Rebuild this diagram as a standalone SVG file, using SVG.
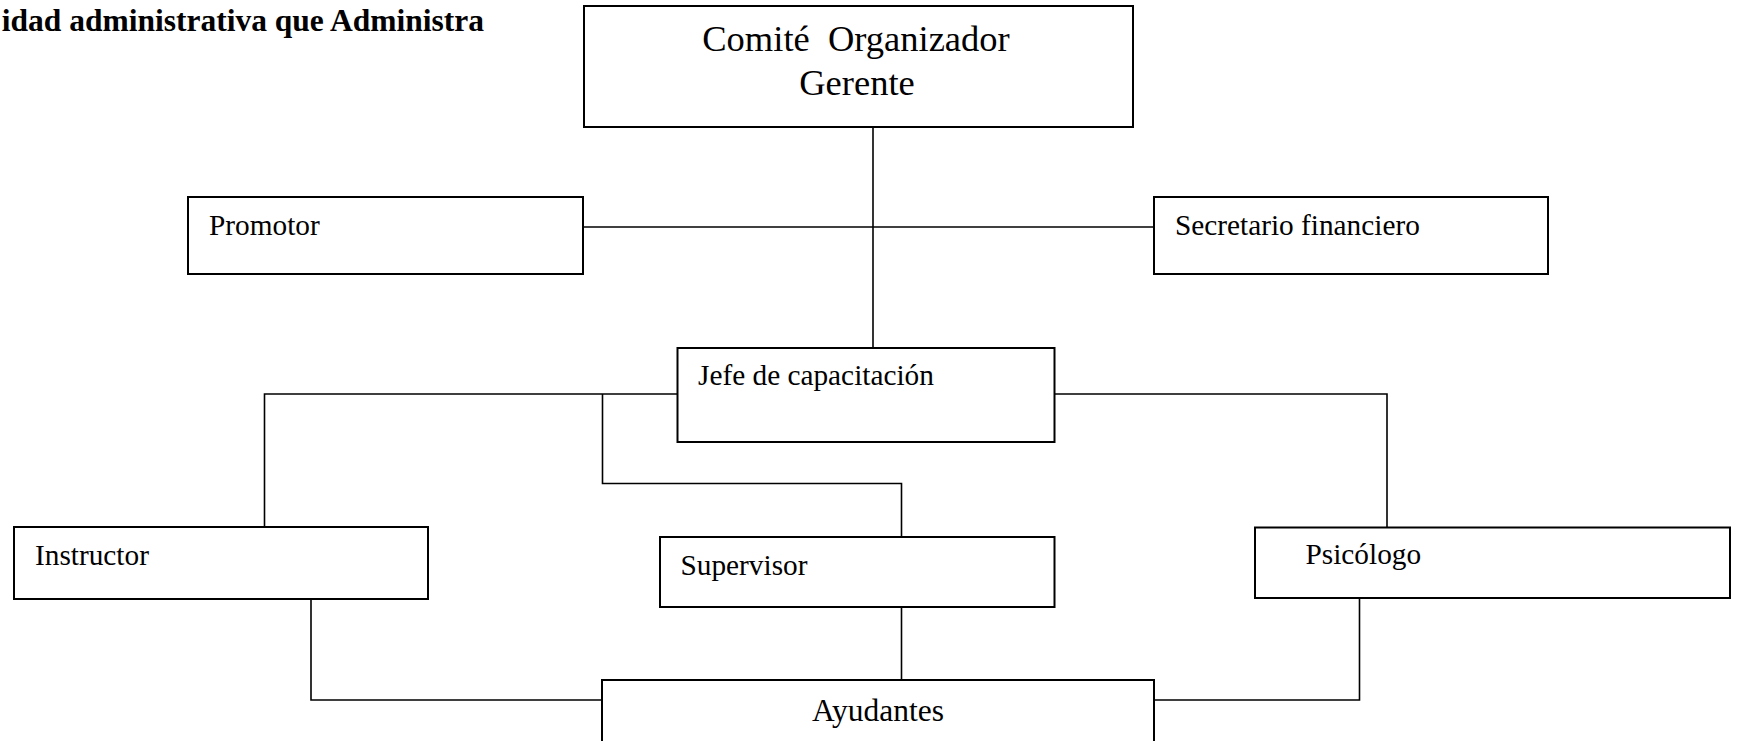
<svg xmlns="http://www.w3.org/2000/svg" width="1737" height="741" viewBox="0 0 1737 741">
<style>
.box{fill:#fff;stroke:#000;stroke-width:2}
.con{fill:none;stroke:#000;stroke-width:1.6}
.t{font-family:"Liberation Serif","Times New Roman",serif;font-size:29.3px;fill:#000}
.big{font-family:"Liberation Serif","Times New Roman",serif;font-size:36.5px;fill:#000}
.title{font-family:"Liberation Serif","Times New Roman",serif;font-size:31.5px;font-weight:bold;fill:#000}
</style>
<rect width="1737" height="741" fill="#fff"/>
<text class="title" x="484" y="31" text-anchor="end">idad administrativa que Administra</text>
<g id="connectors">
<path class="con" d="M873 127 V348"/>
<path class="con" d="M583 227 H1154"/>
<path class="con" d="M677 394 H264.5 V527"/>
<path class="con" d="M602.5 394 V483.5 H901.5 V537"/>
<path class="con" d="M1054.5 394 H1387 V527.5"/>
<path class="con" d="M311 599 V700 H602"/>
<path class="con" d="M901.5 607 V680"/>
<path class="con" d="M1359.5 598 V700 H1154"/>
</g>
<g id="comite">
<rect class="box" x="584" y="6" width="549" height="121"/>
<text class="big" x="856" y="51" text-anchor="middle" xml:space="preserve">Comité  Organizador</text>
<text class="big" x="857" y="95" text-anchor="middle">Gerente</text>
</g>
<g id="promotor">
<rect class="box" x="188" y="197" width="395" height="77"/>
<text class="t" x="209" y="235">Promotor</text>
</g>
<g id="secretario">
<rect class="box" x="1154" y="197" width="394" height="77"/>
<text class="t" x="1175" y="235">Secretario financiero</text>
</g>
<g id="jefe">
<rect class="box" x="677.5" y="348" width="377" height="94"/>
<text class="t" x="698" y="385">Jefe de capacitación</text>
</g>
<g id="instructor">
<rect class="box" x="14" y="527" width="414" height="72"/>
<text class="t" x="35" y="565">Instructor</text>
</g>
<g id="supervisor">
<rect class="box" x="660" y="537" width="394.5" height="70"/>
<text class="t" x="680.5" y="575">Supervisor</text>
</g>
<g id="psicologo">
<rect class="box" x="1255" y="527.5" width="475" height="70.5"/>
<text class="t" x="1305.5" y="564">Psicólogo</text>
</g>
<g id="ayudantes">
<rect class="box" x="602" y="680" width="552" height="80"/>
<text class="t" x="878" y="721" text-anchor="middle" style="font-size:31.5px">Ayudantes</text>
</g>
</svg>
